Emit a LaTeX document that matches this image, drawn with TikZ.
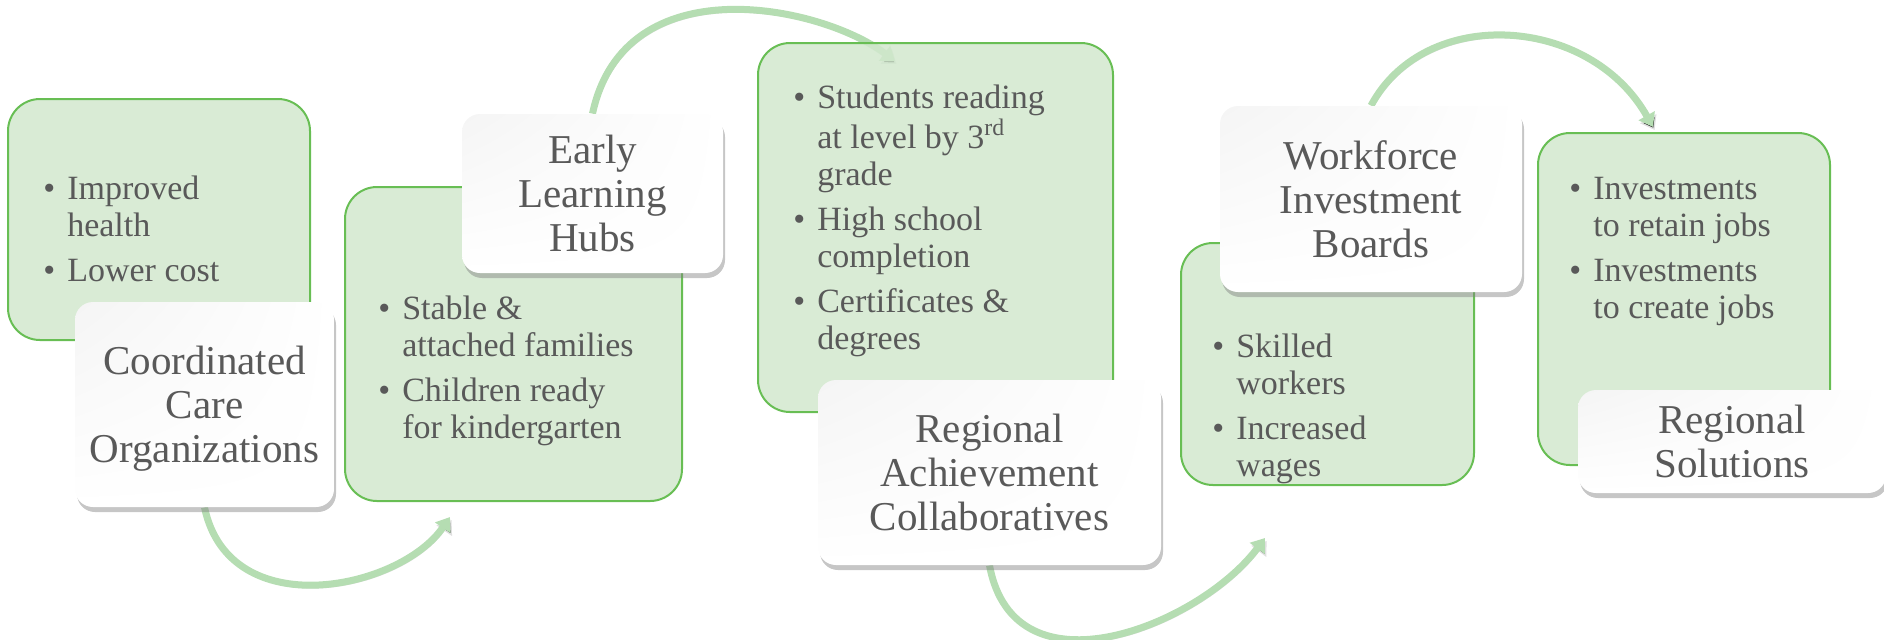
\documentclass[tikz,border=0pt]{standalone}
\usepackage{fontspec}
\setmainfont{Liberation Serif}
\usepackage{xcolor}
\usetikzlibrary{arrows.meta, fit, shadows, shadings, backgrounds}

\definecolor{boxgreen}{RGB}{210,232,206}
\definecolor{linegreen}{RGB}{104,190,84}
\definecolor{arrowgreen}{RGB}{181,221,178}
\definecolor{txtgray}{RGB}{89,89,89}

\begin{document}
\begin{tikzpicture}[
  x=0.5pt, y=-0.5pt,
  outcome/.style={draw=linegreen, line width=1pt, fill=boxgreen, fill opacity=0.85,
                  rounded corners=16pt, inner sep=0pt},
  org/.style={rounded corners=9pt, inner sep=0pt,
              upper left=black!4, upper right=white, lower left=white, lower right=white,
              drop shadow={shadow xshift=1pt, shadow yshift=-2.5pt, opacity=0.45}},
  title/.style={align=center, text=txtgray, font=\fontsize{20.5}{22}\selectfont},
  pts/.style={anchor=base west, inner sep=0pt, text=txtgray,
              font=\fontsize{17}{18.5}\selectfont},
  arr/.style={line width=3.5pt, arrowgreen, -{Triangle[width=9pt,length=6.5pt]},
              preaction={draw=black, draw opacity=0.12,
                         transform canvas={xshift=0.8pt, yshift=-1.5pt}}},
]
\useasboundingbox (0,0) rectangle (1884,639);

% Organisation boxes (white, on top)
\node[org, fit={(75,302) (334,507)}] (cco) {};
\node[org, fit={(462,114) (723,273)}] (elh) {};
\node[org, fit={(818,380) (1161,565)}] (rac) {};
\node[org, fit={(1220,106) (1522,292)}] (wib) {};
\node[org, fit={(1578,390) (1886,493)}] (rso) {};

\node[title] (cco-t) at ([yshift=-2pt]cco.center) {Coordinated\\Care\\Organizations};
\node[title] (elh-t) at (elh.center) {Early\\Learning\\Hubs};
\node[title] (rac-t) at (rac.center) {Regional\\Achievement\\Collaboratives};
\node[title] (wib-t) at (wib.center) {Workforce\\Investment\\Boards};
\node[title] (rso-t) at (rso.center) {Regional\\Solutions};

% Arrow ends
\coordinate (e1) at (450,517);
\coordinate (e2) at (895,61);
\coordinate (e3) at (1265,538);
\coordinate (e4) at (1653,127);

\begin{scope}[on background layer]
  % Curved arrows between the stages
  \draw[arr] (cco.south) .. controls +(25,118) and +(-50,73) .. (e1);
  \draw[arr] (elh.north) .. controls +(32,-149) and +(-75,-56) .. (e2);
  \draw[arr] (rac.south) .. controls +(25,135) and +(-65,87) .. (e3);
  \draw[arr] (wib.north) .. controls +(54,-101) and +(-63,-112) .. (e4);

  % Outcome boxes (green, behind)
  \node[outcome, fit={(8,99) (310,340)}] (o1) {};
  \node[outcome, fit={(345,187) (682,501)}] (o2) {};
  \node[outcome, fit={(758,43) (1113,412)}] (o3) {};
  \node[outcome, fit={(1181,243) (1474,485)}] (o4) {};
  \node[outcome, fit={(1538,133) (1830,465)}] (o5) {};
\end{scope}

% Outcome lists
\node[pts] (p1) at (43,199) {\begin{tabular}[t]{@{}l@{\hspace{6pt}}l@{}}
  \textbullet & Improved\\ & health\\[4pt]
  \textbullet & Lower cost
\end{tabular}};
\node[pts] (p2) at (378,319) {\begin{tabular}[t]{@{}l@{\hspace{6pt}}l@{}}
  \textbullet & Stable \&\\ & attached families\\[4pt]
  \textbullet & Children ready\\ & for kindergarten
\end{tabular}};
\node[pts] (p3) at (793,108) {\begin{tabular}[t]{@{}l@{\hspace{6pt}}l@{}}
  \textbullet & Students reading\\ & at level by 3\textsuperscript{rd}\\ & grade\\[4pt]
  \textbullet & High school\\ & completion\\[4pt]
  \textbullet & Certificates \&\\ & degrees
\end{tabular}};
\node[pts] (p4) at (1212,357) {\begin{tabular}[t]{@{}l@{\hspace{6pt}}l@{}}
  \textbullet & Skilled\\ & workers\\[4pt]
  \textbullet & Increased\\ & wages
\end{tabular}};
\node[pts] (p5) at (1569,199) {\begin{tabular}[t]{@{}l@{\hspace{6pt}}l@{}}
  \textbullet & Investments\\ & to retain jobs\\[4pt]
  \textbullet & Investments\\ & to create jobs
\end{tabular}};

\end{tikzpicture}
\end{document}
